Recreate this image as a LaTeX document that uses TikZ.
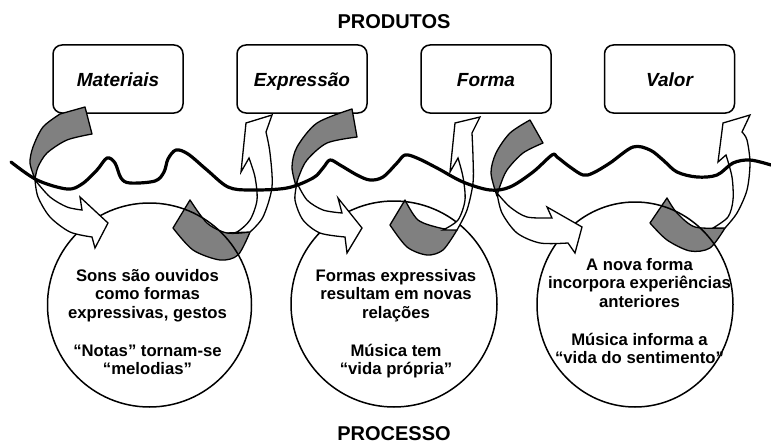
\documentclass[tikz,border=0pt]{standalone}
\usepackage{fontspec}
\setmainfont{Liberation Sans}
\begin{document}
\begin{tikzpicture}[x=1pt,y=-1pt,
  prodbox/.style={draw, line width=1.5pt, rounded corners=9pt, minimum width=130pt, minimum height=68pt, inner sep=0pt, text height=14pt, text depth=0pt, font=\fontsize{19}{22}\selectfont\bfseries\itshape},
  graybd/.style={fill=black!50, draw=black, line width=1.3pt, line join=round},
  whitebd/.style={fill=white, draw=black, line width=1.3pt, line join=miter},
  proc/.style={draw, line width=1.5pt},
  ctext/.style={font=\fontsize{16.7}{18.7}\selectfont\bfseries, inner sep=0pt, anchor=base},
  ttl/.style={font=\fontsize{20}{24}\selectfont\bfseries, inner sep=0pt, anchor=base},
  wave/.style={line width=3.2pt, line cap=round, line join=round}
]
\useasboundingbox (0,0) rectangle (771,444);

% titles
\node[ttl] (prod) at (394,29) {PRODUTOS};
\node[ttl] (proc) at (394,440.5) {PROCESSO};

% product boxes
\node[prodbox] (b1) at (118,79) {Materiais};
\node[prodbox] (b2) at (302,79) {Expressão};
\node[prodbox] (b3) at (486,79) {Forma};
\node[prodbox] (b4) at (669.5,79) {Valor};

% gray bands (upper)
\filldraw[graybd] (35,179) -- plot[smooth] coordinates {(35,179) (30,163) (33,147) (43,127) (60,114)} -- (85,107) -- (92,134)
  -- plot[smooth] coordinates {(92,134) (67,140) (47,153) (38,167) (35,179)} -- cycle;
\filldraw[graybd] (296,186) -- plot[smooth] coordinates {(296,186) (292,167) (297,147) (317,123) (352,109)} -- (357,137)
  -- plot[smooth] coordinates {(357,137) (327,143) (307,160) (299,176) (296,186)} -- cycle;
\filldraw[graybd] (497,196) -- plot[smooth] coordinates {(497,196) (491,173) (496,153) (510,133) (530,120)} -- (543,143)
  -- plot[smooth] coordinates {(543,143) (523,153) (507,170) (500,186) (497,196)} -- cycle;

% gray bands (lower, inside circles)
\filldraw[graybd] (190,200) -- (173,228) -- plot[smooth] coordinates {(173,228) (193,250) (220,260) (238,255) (250,232)}
  -- plot[smooth] coordinates {(250,232) (227,233) (207,223) (190,200)} -- cycle;
\filldraw[graybd] (405,200) -- (390,225) -- plot[smooth] coordinates {(390,225) (407,247) (427,255) (443,250) (457,230)}
  -- plot[smooth] coordinates {(457,230) (440,228) (418,220) (405,200)} -- cycle;
\filldraw[graybd] (667,198) -- (650,223) -- plot[smooth] coordinates {(650,223) (667,240) (690,251) (710,248) (725,228)}
  -- plot[smooth] coordinates {(725,228) (695,227) (677,213) (667,198)} -- cycle;

% process circles
\draw[proc] (149.5,305) circle[radius=102pt];
\draw[proc] (394,304) circle[radius=103pt];
\draw[proc] (635,304.5) ellipse[x radius=98pt, y radius=102.5pt];

% white arrows into the circles
\filldraw[whitebd] (35,180) -- plot[smooth] coordinates {(35,180) (50,197) (67,207) (82,210)} -- (80,197) -- (108,223) -- (95,248) -- (92,237)
  -- plot[smooth] coordinates {(92,237) (70,232) (50,217) (38,197) (35,180)} -- cycle;
\filldraw[whitebd] (297,183) -- plot[smooth] coordinates {(297,183) (307,200) (323,210) (342,213)} -- (338,198) -- (362,228) -- (347,253) -- (345,237)
  -- plot[smooth] coordinates {(345,237) (320,233) (303,220) (295,200) (297,183)} -- cycle;
\filldraw[whitebd] (497,193) -- plot[smooth] coordinates {(497,193) (510,207) (527,217) (552,218)} -- (547,207) -- (582,227) -- (575,253) -- (568,243)
  -- plot[smooth] coordinates {(568,243) (540,243) (517,233) (502,213) (497,193)} -- cycle;

% white arrows up to the next product
\filldraw[whitebd] (250,232) -- plot[smooth] coordinates {(250,232) (263,217) (272,187) (270,153) (266,132)} -- (272,115) -- (246,123) -- (241,172) -- (249,158)
  -- plot[smooth] coordinates {(249,158) (255,177) (257,200) (250,220) (237,232) (227,233)} -- cycle;
\filldraw[whitebd] (457,230) -- plot[smooth] coordinates {(457,230) (467,210) (473,183) (473,157) (472,133)} -- (480,117) -- (455,123) -- (450,172) -- (458,158)
  -- plot[smooth] coordinates {(458,158) (463,177) (465,200) (458,220) (443,230)} -- cycle;
\filldraw[whitebd] (725,228) -- plot[smooth] coordinates {(725,228) (737,213) (747,190) (750,163) (747,140) (742,132)} -- (750,115) -- (723,123) -- (718,162) -- (726,155)
  -- plot[smooth] coordinates {(726,155) (732,177) (733,200) (728,217) (713,228)} -- cycle;

% wavy boundary
\draw[wave] plot[smooth, tension=0.55] coordinates {(11,162) (37,180) (67,189) (82,184) (97,170) (107,158) (115,163) (121,178) (130,183) (155,181) (164,172) (168,159) (176,150) (188,154) (207,170) (228,187) (250,190) (287,188) (313,178) (323,168) (330,160) (340,165) (357,175) (370,180) (383,177) (397,163) (405,155) (417,158) (437,168) (463,182) (490,190) (510,187) (533,172) (552,155) (557,157) (570,167) (583,175) (593,173) (610,163) (633,147) (650,150) (663,160) (677,172) (697,177) (717,175) (733,163) (750,160) (771,165)};

% circle texts
\node[ctext] (t1a) at (147.5,281) {Sons são ouvidos};
\node[ctext] (t1b) at (147.5,299.5) {como formas};
\node[ctext] (t1c) at (147.5,318) {expressivas, gestos};
\node[ctext] (t1d) at (147.5,356) {“Notas” tornam-se};
\node[ctext] (t1e) at (147.5,374) {“melodias”};

\node[ctext] (t2a) at (396,281) {Formas expressivas};
\node[ctext] (t2b) at (396,299.5) {resultam em novas};
\node[ctext] (t2c) at (396,318) {relações};
\node[ctext] (t2d) at (396,356) {Música tem};
\node[ctext] (t2e) at (396,374) {“vida própria”};

\node[ctext] (t3a) at (639.5,270) {A nova forma};
\node[ctext] (t3b) at (639.5,288.5) {incorpora experiências};
\node[ctext] (t3c) at (639.5,307) {anteriores};
\node[ctext] (t3d) at (639.5,345) {Música informa a};
\node[ctext] (t3e) at (639.5,363.5) {“vida do sentimento”};
\end{tikzpicture}
\end{document}
